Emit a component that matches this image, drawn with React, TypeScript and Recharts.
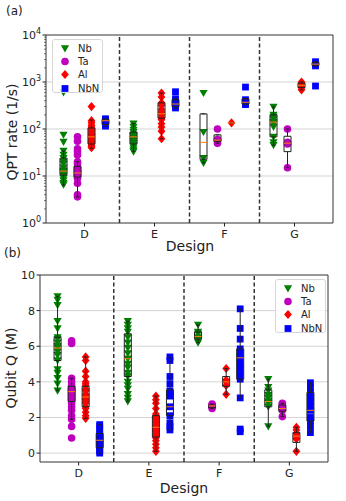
import React from "react";
import { ComposedChart, Scatter, XAxis, YAxis, ReferenceLine, ReferenceArea } from "recharts";

type Box = [number, number, number, number, number] | null;

const designs = ["D", "E", "F", "G"];
const materials = ["Nb", "Ta", "Al", "NbN"];
const offsets = [-0.3, -0.1, 0.1, 0.3];
const colors = ["#008000", "#bf00bf", "#ff0000", "#0000ff"];
const FONT = "'DejaVu Sans', sans-serif";

// (a) QPT rate (1/s), one list per design D, E, F, G
const qptNb = [
  [6.5, 7, 8, 9, 10, 11, 12, 12.5, 13, 15, 18, 20, 24, 28, 34, 53, 75, 600],
  [33, 36, 40, 45, 50, 55, 60, 65, 70, 75, 85, 95, 110, 130],
  [19, 24, 86, 580],
  [45, 52, 68, 110, 130, 140, 160, 180, 200, 295],
];
const qptTa = [
  [3.6, 4, 7, 9, 10, 11, 12, 13, 15, 18, 20, 28, 33, 38, 55, 68],
  [],
  [50, 56, 60, 100],
  [15, 48, 52, 100],
];
const qptAl = [
  [40, 42, 45, 48, 52, 55, 60, 65, 70, 75, 80, 90, 100, 110, 120, 135, 150, 300],
  [62, 90, 110, 130, 160, 175, 200, 230, 260, 320, 360, 480, 580],
  [135],
  [680, 760, 850, 950, 1000],
];
const qptNbN = [
  [115, 125, 140, 155, 165],
  [280, 300, 340, 400, 440, 620],
  [330, 360, 420, 780],
  [820, 2200, 2400, 2700],
];
// box stats: [whisker low, q1, median, q3, whisker high]
const qptNbBox: Box[] = [[6.4, 10.5, 12.7, 24, 34], [33, 48, 68, 86, 130], [19, 22.75, 52, 209.5, 209.5], [45, 68, 140, 200, 295]];
const qptTaBox: Box[] = [[3.6, 9.5, 11.6, 16, 20], null, [50, 54.5, 58, 75, 75], [15, 33, 50, 70, 100]];
const qptAlBox: Box[] = [[39, 48, 68, 105, 155], [62, 170, 210, 360, 580], [135, 135, 135, 135, 135], [680, 760, 850, 950, 1000]];
const qptNbNBox: Box[] = [[115, 125, 150, 160, 165], [280, 300, 340, 420, 440], [330, 340, 370, 440, 440], [2200, 2250, 2400, 2600, 2700]];

// (b) Qubit Q (M)
const qNb = [
  [3.5, 3.9, 4.2, 4.5, 4.7, 5.2, 5.5, 5.7, 5.9, 6.0, 6.2, 6.4, 6.5, 7.0, 7.4, 8.3, 8.6, 8.8],
  [2.9, 3.1, 3.3, 3.6, 3.8, 4.0, 4.3, 4.5, 4.8, 5.0, 5.3, 5.6, 5.9, 6.2, 6.5, 6.8, 7.0, 7.2, 7.4],
  [6.2, 6.35, 6.5, 6.7, 6.8, 7.2],
  [1.5, 2.6, 2.8, 2.9, 3.1, 3.25, 3.5, 3.7, 4.15],
];
const qTa = [
  [0.85, 1.5, 1.9, 2.1, 2.4, 2.6, 2.8, 3.0, 3.2, 3.4, 3.5, 3.6, 3.8, 4.0, 4.2, 6.15, 6.3],
  [],
  [2.5, 2.6, 2.65, 2.7, 2.75],
  [2.05, 2.4, 2.5, 2.6, 2.75, 2.8],
];
const qAl = [
  [1.95, 2.1, 2.3, 2.5, 2.6, 2.8, 2.9, 3.0, 3.1, 3.2, 3.3, 3.5, 3.6, 3.8, 3.9, 4.0, 4.3, 4.6, 5.2, 5.4],
  [0.1, 0.3, 0.5, 0.7, 0.85, 0.95, 1.05, 1.2, 1.3, 1.4, 1.5, 1.6, 1.75, 1.9, 2.0, 2.1, 2.2, 2.5, 2.8, 3.0, 3.2],
  [3.3, 3.8, 4.0, 4.1, 4.75],
  [0.1, 0.8, 0.95, 1.1, 1.3, 1.45],
];
const qNbN = [
  [0, 0.1, 0.2, 0.35, 0.5, 0.6, 0.7, 0.8, 0.95, 1.1, 1.3, 1.5, 1.6],
  [1.3, 1.5, 1.7, 2.1, 2.6, 3.2, 3.5, 3.9, 4.3, 5.2, 5.4],
  [1.2, 1.35, 3.1, 4.15, 4.5, 4.8, 5.0, 5.35, 5.6, 5.85, 6.4, 7.0, 8.1],
  [1.15, 1.5, 1.8, 2.0, 2.4, 2.6, 2.9, 3.1, 3.4, 3.7, 3.95],
];
const qNbBox: Box[] = [[3.5, 5.2, 5.9, 6.5, 8.8], [2.9, 4.3, 5.3, 6.7, 7.4], [6.2, 6.4, 6.55, 6.8, 7.2], [1.5, 2.6, 2.9, 3.55, 4.15]];
const qTaBox: Box[] = [[1.9, 2.9, 3.45, 3.75, 4.2], null, [2.5, 2.55, 2.65, 2.7, 2.75], [2.05, 2.35, 2.5, 2.7, 2.8]];
const qAlBox: Box[] = [[1.95, 2.6, 3.15, 3.75, 5.4], [0.1, 0.9, 1.45, 2.1, 3.2], [3.3, 3.75, 4.0, 4.3, 4.75], [0.1, 0.6, 0.95, 1.15, 1.45]];
const qNbNBox: Box[] = [[0, 0.3, 0.72, 1.1, 1.6], [1.3, 2.1, 2.6, 3.55, 5.4], [3.1, 4.15, 5.35, 5.85, 8.1], [1.15, 1.8, 2.4, 3.4, 3.95]];

const logMajor = [1, 10, 100, 1000, 10000];
const logMinor = [1, 10, 100, 1000].flatMap((p) => [2, 3, 4, 5, 6, 7, 8, 9].map((k) => k * p));
const linTicks = [0, 2, 4, 6, 8, 10];

function Marker({ kind, cx, cy }: { kind: number; cx: number; cy: number }) {
  const c = colors[kind];
  if (kind === 0) return <path d={`M${cx - 4.1},${cy - 3.2}L${cx + 4.1},${cy - 3.2}L${cx},${cy + 4}Z`} fill={c} />;
  if (kind === 1) return <circle cx={cx} cy={cy} r={3.8} fill={c} />;
  if (kind === 2) return <path d={`M${cx},${cy - 4.6}L${cx + 3.9},${cy}L${cx},${cy + 4.6}L${cx - 3.9},${cy}Z`} fill={c} />;
  return <rect x={cx - 3.4} y={cy - 3.4} width={6.8} height={6.8} fill={c} />;
}

function boxLayer(boxes: Box[][], over: boolean) {
  const out: React.ReactNode[] = [];
  boxes.forEach((perDesign, m) =>
    perDesign.forEach((b, d) => {
      if (!b) return;
      const x = d + 1 + offsets[m];
      const [lo, q1, med, q3, hi] = b;
      const k = `${m}-${d}`;
      const w = 0.05;
      if (!over) {
        out.push(
          <ReferenceArea key={"f" + k} x1={x - w} x2={x + w} y1={q1} y2={q3} fill="#ffffff" fillOpacity={1} stroke="none" zIndex={50} />
        );
        return;
      }
      const line = { stroke: "#222", strokeWidth: 1, zIndex: 700 };
      out.push(
        <ReferenceArea key={"o" + k} x1={x - w} x2={x + w} y1={q1} y2={q3} fill="none" fillOpacity={0} stroke="#222" strokeWidth={1} zIndex={700} />,
        <ReferenceLine key={"wl" + k} segment={[{ x, y: lo }, { x, y: q1 }]} {...line} />,
        <ReferenceLine key={"wh" + k} segment={[{ x, y: q3 }, { x, y: hi }]} {...line} />,
        <ReferenceLine key={"cl" + k} segment={[{ x: x - w / 2, y: lo }, { x: x + w / 2, y: lo }]} {...line} />,
        <ReferenceLine key={"ch" + k} segment={[{ x: x - w / 2, y: hi }, { x: x + w / 2, y: hi }]} {...line} />,
        <ReferenceLine key={"md" + k} segment={[{ x: x - w, y: med }, { x: x + w, y: med }]} stroke="#ff7f0e" strokeWidth={1} zIndex={710} />
      );
    })
  );
  return out;
}

function XTick(props: any) {
  const { x, y, payload } = props;
  return (
    <g>
      <line x1={x} x2={x} y1={y} y2={y + 3.5} stroke="#222" />
      <text x={x} y={y + 15} textAnchor="middle" fontSize={11} fontFamily={FONT} fill="#222">
        {designs[payload.value - 1]}
      </text>
    </g>
  );
}

function LogTick(props: any) {
  const { x, y, payload } = props;
  const v = payload.value;
  const major = logMajor.includes(v);
  if (!major) return <line x1={x - 2} x2={x} y1={y} y2={y} stroke="#222" strokeWidth={0.6} />;
  return (
    <g>
      <line x1={x - 3.5} x2={x} y1={y} y2={y} stroke="#222" />
      <text x={x - 5} y={y + 4} textAnchor="end" fontSize={11} fontFamily={FONT} fill="#222">
        10
        <tspan dy={-5} fontSize={8}>
          {Math.round(Math.log10(v))}
        </tspan>
      </text>
    </g>
  );
}

function LinTick(props: any) {
  const { x, y, payload } = props;
  return (
    <g>
      <line x1={x - 3.5} x2={x} y1={y} y2={y} stroke="#222" />
      <text x={x - 5} y={y + 4} textAnchor="end" fontSize={11} fontFamily={FONT} fill="#222">
        {payload.value}
      </text>
    </g>
  );
}

function Legend({ left, top }: { left: number; top: number }) {
  return (
    <div
      style={{
        position: "absolute", left, top, width: 49, height: 52,
        background: "rgba(255,255,255,0.8)", border: "1px solid #d6d6d6", borderRadius: 3,
        fontFamily: FONT, fontSize: 10, color: "#222",
      }}
    >
      {materials.map((name, i) => (
        <div key={name} style={{ position: "absolute", left: 0, top: 2 + i * 13.2, height: 13, display: "flex", alignItems: "center" }}>
          <svg width={24} height={13}>
            <Marker kind={i} cx={12} cy={6.5} />
          </svg>
          <span style={{ marginLeft: 1 }}>{name}</span>
        </div>
      ))}
    </div>
  );
}

function Panel(props: {
  values: number[][][];
  boxes: Box[][];
  log: boolean;
  width: number;
  height: number;
  margin: { top: number; right: number; bottom: number; left: number };
  yWidth: number;
}) {
  const { values, boxes, log, width, height, margin, yWidth } = props;
  const domain = log ? [1, 10000] : [-0.5, 10];
  const grid = log ? [10, 100, 1000] : [0, 2, 4, 6, 8];
  return (
    <ComposedChart width={width} height={height} margin={margin}>
      <XAxis
        type="number"
        dataKey="x"
        domain={[0.45, 4.55]}
        ticks={[1, 2, 3, 4]}
        interval={0}
        allowDataOverflow
        axisLine={false}
        tickLine={false}
        tickSize={0}
        tickMargin={0}
        height={30}
        tick={<XTick />}
      />
      <YAxis
        type="number"
        dataKey="y"
        scale={log ? "log" : "linear"}
        domain={domain}
        ticks={log ? [...logMajor, ...logMinor] : linTicks}
        interval={0}
        allowDataOverflow
        axisLine={false}
        tickLine={false}
        tickSize={0}
        tickMargin={0}
        width={yWidth}
        tick={log ? <LogTick /> : <LinTick />}
      />
      {grid.map((g) => (
        <ReferenceLine key={"g" + g} y={g} stroke="#d3d3d3" strokeWidth={1} zIndex={10} />
      ))}
      {[1.5, 2.5, 3.5].map((s) => (
        <ReferenceLine key={"s" + s} x={s} stroke="#333" strokeWidth={1.5} strokeDasharray="4 2.5" zIndex={20} />
      ))}
      {boxLayer(boxes, false)}
      {values.map((series, m) => (
        <Scatter
          key={materials[m]}
          name={materials[m]}
          data={series.flatMap((vals, d) => vals.map((y) => ({ x: d + 1 + offsets[m], y })))}
          isAnimationActive={false}
          shape={(p: any) => <Marker kind={m} cx={p.cx} cy={p.cy} />}
        />
      ))}
      {boxLayer(boxes, true)}
      <ReferenceArea x1={0.45} x2={4.55} y1={domain[0]} y2={domain[1]} fill="none" fillOpacity={0} stroke="#333" strokeWidth={1} zIndex={800} />
    </ComposedChart>
  );
}

const textStyle: React.CSSProperties = { position: "absolute", fontFamily: FONT, color: "#222", whiteSpace: "nowrap" };

export default function App() {
  return (
    <div style={{ position: "absolute", left: 0, top: 0, width: 346, height: 501, background: "#fff", overflow: "hidden" }}>
      <div style={{ position: "absolute", left: 0, top: 0 }}>
        <Panel
          values={[qptNb, qptTa, qptAl, qptNbN]}
          boxes={[qptNbBox, qptTaBox, qptAlBox, qptNbNBox]}
          log
          width={346}
          height={258}
          margin={{ top: 35, right: 13, bottom: 5, left: 6 }}
          yWidth={40}
        />
      </div>
      <div style={{ position: "absolute", left: 0, top: 250 }}>
        <Panel
          values={[qNb, qTa, qAl, qNbN]}
          boxes={[qNbBox, qTaBox, qAlBox, qNbNBox]}
          log={false}
          width={346}
          height={251}
          margin={{ top: 25, right: 18, bottom: 9, left: 4 }}
          yWidth={36}
        />
      </div>
      <Legend left={52} top={39} />
      <Legend left={275} top={279} />
      <div style={{ ...textStyle, left: 6, top: 4, fontSize: 12 }}>(a)</div>
      <div style={{ ...textStyle, left: 4, top: 246, fontSize: 12 }}>(b)</div>
      <div style={{ ...textStyle, left: 140, top: 238, width: 100, textAlign: "center", fontSize: 14 }}>Design</div>
      <div style={{ ...textStyle, left: 134, top: 480, width: 100, textAlign: "center", fontSize: 14 }}>Design</div>
      <div style={{ ...textStyle, left: -88, top: 122, width: 200, height: 20, lineHeight: "20px", textAlign: "center", fontSize: 14, transform: "rotate(-90deg)" }}>
        QPT rate (1/s)
      </div>
      <div style={{ ...textStyle, left: -89, top: 358, width: 200, height: 20, lineHeight: "20px", textAlign: "center", fontSize: 14, transform: "rotate(-90deg)" }}>
        Qubit Q (M)
      </div>
    </div>
  );
}
